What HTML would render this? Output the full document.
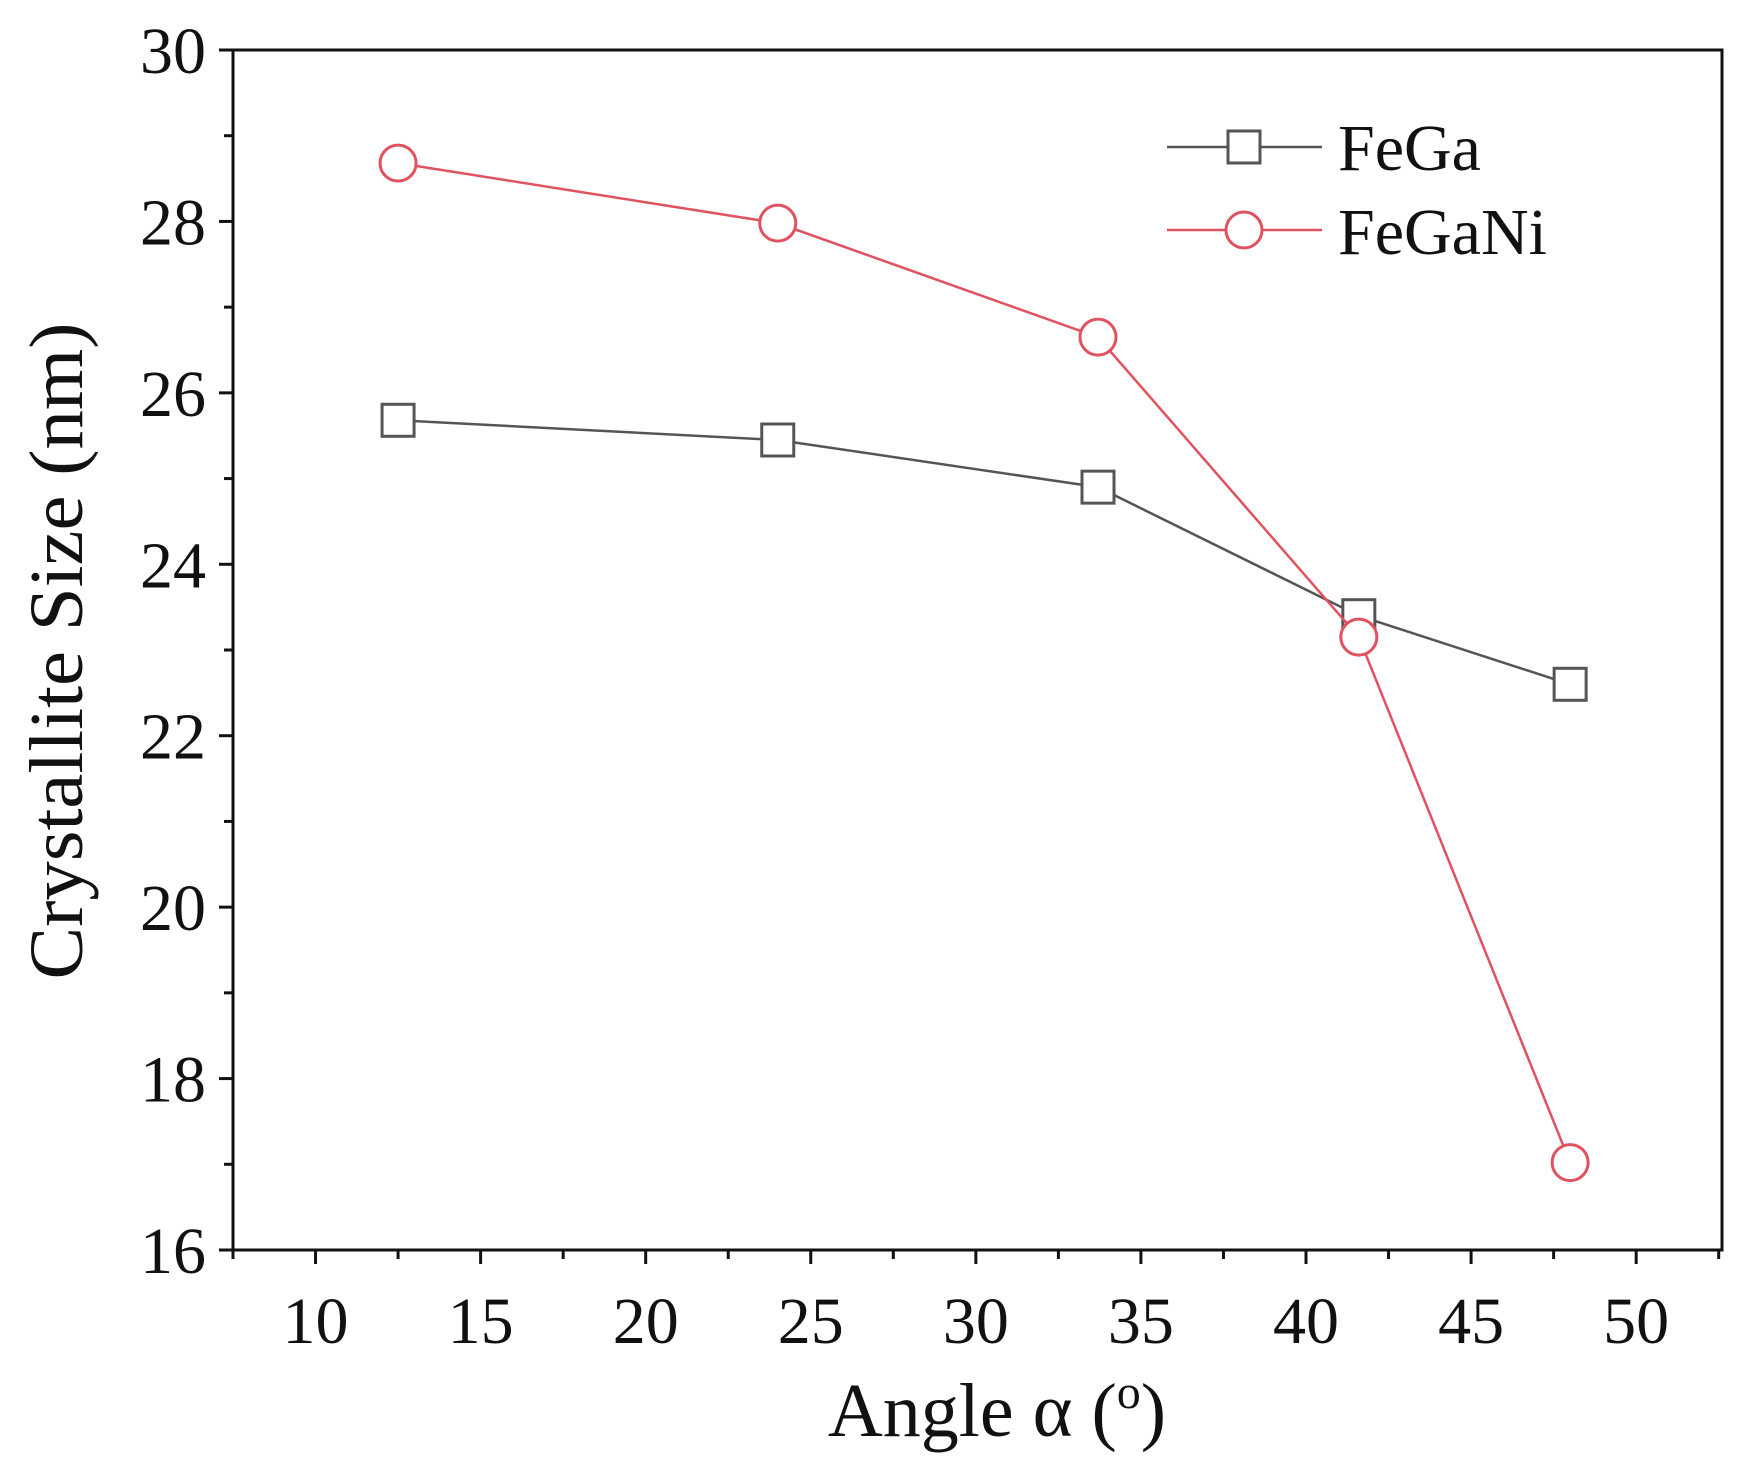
<!DOCTYPE html>
<html><head><meta charset="utf-8"><style>body{margin:0;background:#fff}svg{display:block}</style></head>
<body>
<svg id="chart" width="1746" height="1477" xmlns="http://www.w3.org/2000/svg" font-family="'Liberation Serif', serif">
<rect width="1746" height="1477" fill="#fff"/>
<g id="plot"></g>
</svg>
<script>
const xCats = [12.5, 24, 33.7, 41.6, 48];
const feGa = [25.68, 25.45, 24.9, 23.4, 22.6];
const feGaNi = [28.68, 27.98, 26.65, 23.15, 17.02];
const xTicks = [10, 15, 20, 25, 30, 35, 40, 45, 50];
const yTicks = [16, 18, 20, 22, 24, 26, 28, 30];

const L=233,R=1722,T=50,B=1250;
const x0=7.5,x1=52.6,y0=16,y1=30;
const sx=v=>L+(v-x0)/(x1-x0)*(R-L);
const sy=v=>B-(v-y0)/(y1-y0)*(B-T);
const NS="http://www.w3.org/2000/svg";
const g=document.getElementById('plot');
function mk(t,a,p){const e=document.createElementNS(NS,t);for(const k in a)e.setAttribute(k,a[k]);(p||g).appendChild(e);return e;}

const frame=mk('rect',{x:L,y:T,width:R-L,height:B-T,fill:'none',stroke:'#111','stroke-width':3});



xTicks.forEach(v=>{
  const X=sx(v);
  const t=mk('line',{x1:X,x2:X,y1:B,y2:B+14,stroke:'#111','stroke-width':3});
  
  
  const m=mk('line',{x1:sx(v+2.5),x2:sx(v+2.5),y1:B,y2:B+9,stroke:'#111','stroke-width':3});
  
  
  const l=mk('text',{x:X,y:1343,'text-anchor':'middle','font-size':66,fill:'#111'});
  l.textContent=v;
  
  
});
const m0=mk('line',{x1:sx(7.5),x2:sx(7.5),y1:B,y2:B+9,stroke:'#111','stroke-width':3});


yTicks.forEach(v=>{
  const Y=sy(v);
  const t=mk('line',{x1:L-14,x2:L,y1:Y,y2:Y,stroke:'#111','stroke-width':3});
  
  
  if(v<30){const m=mk('line',{x1:L-9,x2:L,y1:sy(v+1),y2:sy(v+1),stroke:'#111','stroke-width':3});
  
  }
  const l=mk('text',{x:206,y:Y+23,'text-anchor':'end','font-size':66,fill:'#111'});
  l.textContent=v;
  
  
});

function series(vals,color,shape,name){
  const pl=mk('polyline',{points:xCats.map((x,i)=>sx(x)+','+sy(vals[i])).join(' '),fill:'none',stroke:color,'stroke-width':2.5});
  
  
  xCats.forEach((x,i)=>{
    let e;
    if(shape==='sq') e=mk('rect',{x:sx(x)-16,y:sy(vals[i])-16,width:32,height:32,fill:'#fff',stroke:color,'stroke-width':3});
    else e=mk('circle',{cx:sx(x),cy:sy(vals[i]),r:18,fill:'#fff',stroke:color,'stroke-width':3});
    
    
  });
}
series(feGa,'#555','sq','fega');
series(feGaNi,'#e0525f','ci','fegani');

// legend
const lg=mk('g',{});


mk('line',{x1:1167,x2:1322,y1:147,y2:147,stroke:'#555','stroke-width':2.5},lg);
mk('rect',{x:1228,y:131,width:32,height:32,fill:'#fff',stroke:'#555','stroke-width':3},lg);
const t1=mk('text',{x:1338,y:170,'font-size':66,fill:'#111'},lg);t1.textContent='FeGa';


mk('line',{x1:1167,x2:1322,y1:230,y2:230,stroke:'#e0525f','stroke-width':2.5},lg);
mk('circle',{cx:1244,cy:230,r:18,fill:'#fff',stroke:'#e0525f','stroke-width':3},lg);
const t2=mk('text',{x:1338,y:254,'font-size':66,fill:'#111'},lg);t2.textContent='FeGaNi';



const xt=mk('text',{x:997,y:1436,'text-anchor':'middle','font-size':76,fill:'#111'});
xt.innerHTML='Angle α (<tspan font-size="48" dy="-28">o</tspan><tspan dy="28">)</tspan>';


const yt=mk('text',{x:0,y:0,'text-anchor':'middle','font-size':76,fill:'#111',transform:'translate(82,651) rotate(-90)',textLength:657,lengthAdjust:'spacingAndGlyphs'});
yt.textContent='Crystallite Size (nm)';


</script>
</body></html>
